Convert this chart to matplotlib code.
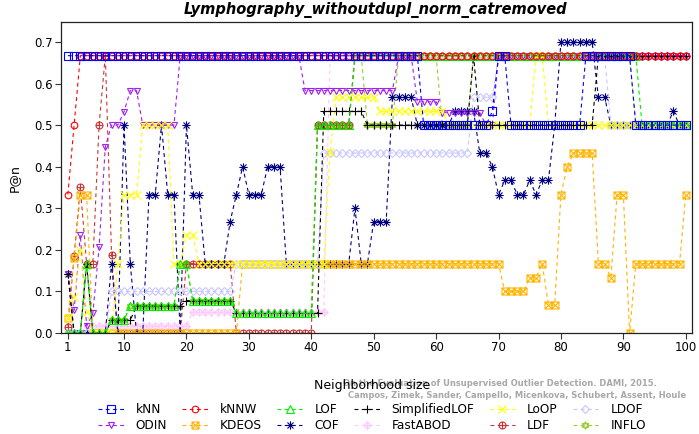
import matplotlib
matplotlib.use("Agg")
import matplotlib.pyplot as plt
from matplotlib.path import Path
import numpy as np

k = list(range(1, 101))

kNN = [0.667]*57 + [0.5]*11 + [0.533] + [0.667]*2 + [0.5]*12 + [0.667]*8 + [0.5]*9
kNNW = [0.333, 0.5] + [0.667]*98
LOF = [0, 0, 0, 0.167, 0, 0, 0] + [0.031]*3 + [0.065]*8 + [0.167]*2 + [0.078]*7 + [0.047]*13 + [0.5]*6 + [0.667]*46 + [0.5]*8
SimplifiedLOF = [0.143, 0, 0, 0.167, 0, 0, 0] + [0.031]*4 + [0.065]*8 + [0.078]*8 + [0.047]*14 + [0.533]*7 + [0.5]*17 + [0.667] + [0.5]*19 + [0.667]*15
LoOP = [0.035, 0.087, 0.2, 0.05, 0, 0, 0, 0, 0.167, 0.333, 0.333, 0.333] + [0.5]*5 + [0.167]*2 + [0.236]*2 + [0.167]*21 + [0.436] + [0.567]*7 + [0.533]*11 + [0.5]*14 + [0.667]*2 + [0.5]*23
LDOF = [0]*7 + [0.1]*20 + [0.167]*14 + [0.433]*24 + [0.567]*4 + [0.667]*18 + [0.5]*13
ODIN = [0.143, 0.055, 0.236, 0.017, 0.047, 0.206, 0.448, 0.5, 0.5, 0.532, 0.583, 0.583] + [0.5]*6 + [0.667]*20 + [0.583]*15 + [0.667]*3 + [0.556]*4 + [0.53]*7 + [0.5]*2 + [0.667]*31
KDEOS = [0.035, 0.18, 0.333, 0.333] + [0]*24 + [0.167]*42 + [0.1]*4 + [0.133]*2 + [0.167] + [0.067]*2 + [0.333, 0.4] + [0.433]*4 + [0.167]*2 + [0.133, 0.333, 0.333, 0] + [0.167]*8 + [0.333]
COF = [0.143] + [0]*6 + [0.167, 0, 0.5, 0.167, 0, 0, 0.333, 0.333, 0.5, 0.333, 0.333, 0, 0.5, 0.333, 0.333] + [0.167]*4 + [0.268, 0.333, 0.4, 0.333, 0.333, 0.333, 0.4, 0.4, 0.4] + [0.167]*11 + [0.3, 0.167, 0.167, 0.268, 0.268, 0.268] + [0.567]*4 + [0.5]*6 + [0.533]*4 + [0.433, 0.433, 0.4, 0.333, 0.367, 0.367, 0.333, 0.333, 0.367, 0.333, 0.367, 0.367, 0.5] + [0.7]*6 + [0.567]*2 + [0.5]*10 + [0.533, 0.5, 0.5]
FastABOD = [0]*3 + [0.017]*17 + [0.05]*22 + [0.667]*58
LDF = [0.015, 0.185, 0.35, 0.167, 0.167, 0.5, 0.667, 0.188] + [0]*11 + [0.167]*8 + [0]*13 + [0.5]*6 + [0.667]*54
INFLO = [0, 0, 0, 0.167, 0, 0, 0] + [0.031]*3 + [0.065]*8 + [0.167]*2 + [0.078]*7 + [0.047]*13 + [0.5]*6 + [0.667]*2 + [0.5]*5 + [0.667]*7 + [0.5]*5 + [0.667]*26 + [0.5]*9

names = ["kNN", "kNNW", "LOF", "SimplifiedLOF", "LoOP", "LDOF",
         "ODIN", "KDEOS", "COF", "FastABOD", "LDF", "INFLO"]
series = [kNN, kNNW, LOF, SimplifiedLOF, LoOP, LDOF, ODIN, KDEOS, COF, FastABOD, LDF, INFLO]
colors = ["#0000FF", "#FF0000", "#00EE00", "#000000", "#FFFF00", "#C8C8FF",
          "#A020F0", "#FFB400", "#000080", "#FFC8FF", "#CC3333", "#9ACD32"]

# custom markers (R pch shapes)
def compound(parts):
    verts, codes = [], []
    for v, c in parts:
        verts += v
        codes += c
    return Path(verts, codes)

M, L, C = Path.MOVETO, Path.LINETO, Path.CLOSEPOLY
sq = ([(-1, -1), (1, -1), (1, 1), (-1, 1), (-1, -1)], [M, L, L, L, C])
xx = ([(-1, -1), (1, 1), (-1, 1), (1, -1)], [M, L, M, L])
pl1 = ([(0, -1), (0, 1), (-1, 0), (1, 0)], [M, L, M, L])
dia = ([(0, 1.3), (1.3, 0), (0, -1.3), (-1.3, 0), (0, 1.3)], [M, L, L, L, C])
pl13 = ([(0, -1.3), (0, 1.3), (-1.3, 0), (1.3, 0)], [M, L, M, L])
d = 0.8
ast = ([(0, -1.1), (0, 1.1), (-1.1, 0), (1.1, 0), (-d, -d), (d, d), (-d, d), (d, -d)], [M, L, M, L, M, L, M, L])
circ = Path.unit_circle()
circ_part = (list(map(tuple, circ.vertices)), list(circ.codes))
tu = ([(0, 1.15), (1, -0.58), (-1, -0.58), (0, 1.15)], [M, L, L, C])
td = ([(0, -1.15), (1, 0.58), (-1, 0.58), (0, -1.15)], [M, L, L, C])

m_kdeos = compound([sq, xx])
m_cof = compound([ast])
m_fast = compound([dia, pl13])
m_ldf = compound([circ_part, pl1])
m_inflo = compound([tu, td])

markers = ["s", "o", "^", "+", "x", "D", "v", m_kdeos, m_cof, m_fast, m_ldf, m_inflo]
msizes = [5.5, 4.8, 5.2, 6, 5.3, 4.5, 5, 5, 6, 5.3, 5, 5.3]

W, H = 699, 434
fig = plt.figure(figsize=(W/100, H/100), dpi=100)
ax = fig.add_axes([61/W, 1-333/H, (692-61)/W, (333-22)/H])

handles = {}
items = list(zip(names, series, colors, markers, msizes))
for name, vals, col, mk, ms in reversed(items):
    h, = ax.plot(k, vals, color=col, linestyle=(0, (3.5, 3)), linewidth=0.8,
                 marker=mk, markersize=ms, markerfacecolor="none",
                 markeredgecolor=col, markeredgewidth=0.8, label=name)
    handles[name] = h

ax.set_xlim(-0.1, 101)
ax.set_ylim(0, 0.748)
ax.set_xticks([1, 10, 20, 30, 40, 50, 60, 70, 80, 90, 100])
ax.set_yticks([0.0, 0.1, 0.2, 0.3, 0.4, 0.5, 0.6, 0.7])
ax.set_yticklabels(["0.0", "0.1", "0.2", "0.3", "0.4", "0.5", "0.6", "0.7"])
ax.tick_params(labelsize=8.5, length=4, width=0.8, pad=2, color="#333333")
for s in ax.spines.values():
    s.set_linewidth(0.9)
    s.set_color("#222222")

fig.text(376/W, 1-10/H, "Lymphography_withoutdupl_norm_catremoved",
         ha="center", va="center", fontsize=10.5, fontweight="bold", fontstyle="italic")
fig.text(14/W, 1-178/H, "P@n", rotation=90, ha="center", va="center", fontsize=9)

fig.text(657/W, 1-383/H, "On the Evaluation of Unsupervised Outlier Detection. DAMI, 2015.",
         ha="right", va="center", fontsize=6, fontweight="bold", color="#A8A8A8")
fig.text(686/W, 1-396/H, "Campos, Zimek, Sander, Campello, Micenkova, Schubert, Assent, Houle",
         ha="right", va="center", fontsize=6, fontweight="bold", color="#A8A8A8")
fig.text(372/W, 1-385/H, "Neighborhood size", ha="center", va="center", fontsize=9)

order = ["kNN", "ODIN", "kNNW", "KDEOS", "LOF", "COF", "SimplifiedLOF", "FastABOD",
         "LoOP", "LDF", "LDOF", "INFLO"]
fig.legend([handles[n] for n in order], order, ncol=6, loc="upper center",
           bbox_to_anchor=(372/W, 1-403/H), frameon=False, fontsize=8.7,
           handlelength=2.1, handletextpad=1.0, columnspacing=1.25,
           labelspacing=0.25, borderpad=0, borderaxespad=0)

fig.savefig("out.png", dpi=100)
